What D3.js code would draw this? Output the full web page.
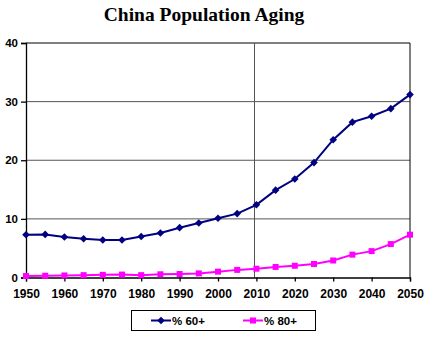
<!DOCTYPE html>
<html>
<head>
<meta charset="utf-8">
<script src="https://cdn.jsdelivr.net/npm/d3@7"></script>
<style>
  body { margin: 0; background: #fff; }
  svg text { font-family: Arial, "Liberation Sans", sans-serif; }
</style>
</head>
<body>
<div id="chart"></div>
<script>
var width  = 432;
var height = 354;

// data
var years   = [1950, 1955, 1960, 1965, 1970, 1975, 1980, 1985, 1990, 1995, 2000,
               2005, 2010, 2015, 2020, 2025, 2030, 2035, 2040, 2045, 2050];
var pct60   = [7.3, 7.35, 6.9, 6.6, 6.4, 6.4, 7.0, 7.6, 8.5, 9.3, 10.1,
               10.9, 12.4, 14.9, 16.8, 19.6, 23.5, 26.5, 27.5, 28.8, 31.2];
var pct80   = [0.25, 0.3, 0.35, 0.4, 0.45, 0.5, 0.4, 0.55, 0.6, 0.7, 1.0,
               1.3, 1.5, 1.8, 2.0, 2.3, 2.9, 3.9, 4.5, 5.7, 7.3];
var xTicks  = [1950, 1960, 1970, 1980, 1990, 2000, 2010, 2020, 2030, 2040, 2050];
var yTicks  = [0, 10, 20, 30, 40];
var seriesNames = ["% 60+", "% 80+"];
var markYear = 2009.3;

var margin = {left: 26, right: 22, top: 43, bottom: 77};

var svg = d3.select("#chart").append("svg")
  .attr("width", width)
  .attr("height", height);

var x = d3.scaleLinear().domain([1950, 2050]).range([margin.left, width - margin.right]);
var y = d3.scaleLinear().domain([0, 40]).range([height - margin.bottom + 0.5, margin.top]);

// title
svg.append("text")
  .attr("x", 204).attr("y", 21)
  .attr("text-anchor", "middle")
  .style("font-family", "'Liberation Serif', 'Times New Roman', serif")
  .style("font-weight", "bold")
  .style("font-size", "19.5px")
  .text("China Population Aging");

// grid lines
svg.selectAll(".grid")
  .data(yTicks.slice(1))
  .enter().append("line")
  .attr("class", "grid")
  .attr("x1", x(1950)).attr("x2", x(2050))
  .attr("y1", function(d) { return y(d); })
  .attr("y2", function(d) { return y(d); })
  .style("stroke", function(d) { return d == 40 ? "#000" : "#555"; })
  .style("stroke-width", 1);

// right border
svg.append("line")
  .attr("x1", x(2050)).attr("x2", x(2050))
  .attr("y1", y(40)).attr("y2", y(0))
  .style("stroke", "#000");

// vertical marker line
svg.append("line")
  .attr("x1", Math.round(x(markYear)) + 0.5).attr("x2", Math.round(x(markYear)) + 0.5)
  .attr("y1", y(40)).attr("y2", y(0))
  .style("stroke", "#555");

// axes
var yAxis = d3.axisLeft(y).tickValues(yTicks).tickSize(5).tickPadding(3);
var xAxis = d3.axisBottom(x).tickValues(xTicks).tickFormat(d3.format("d")).tickSize(4).tickPadding(8);

var gy = svg.append("g")
  .attr("transform", "translate(" + margin.left + ",0)")
  .call(yAxis);
var gx = svg.append("g")
  .attr("transform", "translate(0," + y(0) + ")")
  .call(xAxis);

[gx, gy].forEach(function(g) {
  g.selectAll("path, line").style("stroke", "#000").style("stroke-width", 1.3);
  g.selectAll("text")
    .style("font-weight", "bold")
    .style("fill", "#000");
});
gx.selectAll("text").style("font-size", "12px");
gy.selectAll("text").style("font-size", "11.5px");

// series
var colors = ["#000080", "#ff00ff"];
var series = [pct60, pct80];

var line = d3.line()
  .x(function(d, i) { return x(years[i]); })
  .y(function(d) { return y(d); });

series.forEach(function(vals, k) {
  svg.append("path")
    .datum(vals)
    .attr("d", line)
    .style("fill", "none")
    .style("stroke", colors[k])
    .style("stroke-width", 2);
});

// marker shapes: a wide diamond and a small square
var diamond = "M0,-3.8L3.8,0L0,3.8L-3.8,0Z";
var square  = "M-3,-3H3V3H-3Z";

svg.selectAll(".m60")
  .data(pct60)
  .enter().append("path")
  .attr("class", "m60")
  .attr("d", diamond)
  .attr("transform", function(d, i) { return "translate(" + x(years[i]) + "," + y(d) + ")"; })
  .style("fill", colors[0]);

svg.selectAll(".m80")
  .data(pct80)
  .enter().append("path")
  .attr("class", "m80")
  .attr("d", square)
  .attr("transform", function(d, i) { return "translate(" + x(years[i]) + "," + y(d) + ")"; })
  .style("fill", colors[1]);

// legend
var legend = svg.append("g");
legend.append("rect")
  .attr("x", 131.5).attr("y", 310.5)
  .attr("width", 184).attr("height", 20)
  .style("fill", "#fff")
  .style("stroke", "#000")
  .style("stroke-width", 1);

var legX = [151, 243];
seriesNames.forEach(function(name, k) {
  legend.append("line")
    .attr("x1", legX[k]).attr("x2", legX[k] + 20)
    .attr("y1", 320.5).attr("y2", 320.5)
    .style("stroke", colors[k])
    .style("stroke-width", 2);
  legend.append("path")
    .attr("d", k == 0 ? diamond : square)
    .attr("transform", "translate(" + (legX[k] + 10) + ",320.5)")
    .style("fill", colors[k]);
  legend.append("text")
    .attr("x", legX[k] + 21).attr("y", 324.5)
    .style("font-size", "11.5px")
    .style("font-weight", "bold")
    .text(name);
});
</script>
</body>
</html>
